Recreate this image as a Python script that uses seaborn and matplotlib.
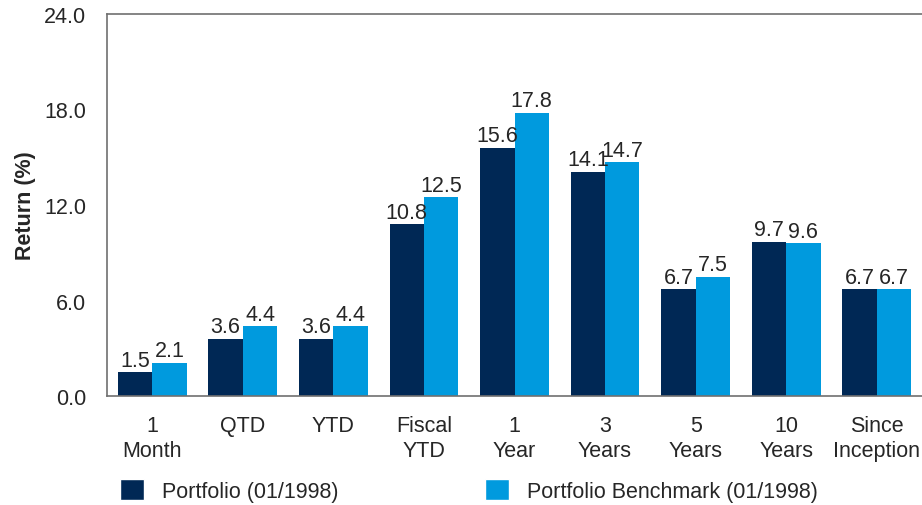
import pandas as pd
import seaborn as sns
import matplotlib.pyplot as plt
from matplotlib.patches import Patch

sns.set_style("white")
plt.rcParams['font.family'] = ['Liberation Sans', 'DejaVu Sans']

# Data
periods = ["1\nMonth", "QTD", "YTD", "Fiscal\nYTD", "1\nYear", "3\nYears", "5\nYears", "10\nYears", "Since\nInception"]
portfolio = [1.5, 3.6, 3.6, 10.8, 15.6, 14.1, 6.7, 9.7, 6.7]
benchmark = [2.1, 4.4, 4.4, 12.5, 17.8, 14.7, 7.5, 9.6, 6.7]
series_names = ["Portfolio (01/1998)", "Portfolio Benchmark (01/1998)"]
colors = ["#002855", "#009ADE"]

df = pd.DataFrame({
    "period": periods * 2,
    "value": portfolio + benchmark,
    "series": [series_names[0]] * len(periods) + [series_names[1]] * len(periods),
})

fs = 15.5

fig = plt.figure(figsize=(9.22, 5.06), dpi=100)
ax = fig.add_axes([107 / 922, 1 - 397 / 506, 815 / 922, 382 / 506])

sns.barplot(data=df, x="period", y="value", hue="series", palette=colors,
            width=0.76, saturation=1, linewidth=0, ax=ax, legend=False)

for container in ax.containers:
    ax.bar_label(container, fmt="%.1f", padding=1, fontsize=fs)

ax.set_ylim(0, 24)
ax.set_yticks([0, 6, 12, 18, 24])
ax.set_yticklabels(["0.0", "6.0", "12.0", "18.0", "24.0"])
ax.set_xlim(-0.5, len(periods) - 0.5)
ax.set_xlabel("")
ax.set_ylabel("Return (%)", fontsize=fs, fontweight="bold", labelpad=6)
ax.tick_params(axis="both", labelsize=fs, length=9, color="#d0d0d0", width=1.2, direction="out")
ax.tick_params(axis="y", pad=6)
ax.tick_params(axis="x", pad=5)
for lbl in ax.get_xticklabels():
    lbl.set_linespacing(1.2)

for side in ["left", "bottom", "top"]:
    ax.spines[side].set_color("#707070")
    ax.spines[side].set_linewidth(1.2)
ax.spines["right"].set_visible(False)

handles = [Patch(facecolor=c) for c in colors]
leg_kw = dict(loc="lower left", frameon=False, fontsize=fs, handlelength=1.1, handleheight=1.15,
              handletextpad=0.85, borderpad=0, borderaxespad=0)
fig.legend([handles[0]], [series_names[0]], bbox_to_anchor=(120 / 922, 3 / 506), **leg_kw)
fig.legend([handles[1]], [series_names[1]], bbox_to_anchor=(485 / 922, 3 / 506), **leg_kw)

fig.savefig("out.png", dpi=100)
